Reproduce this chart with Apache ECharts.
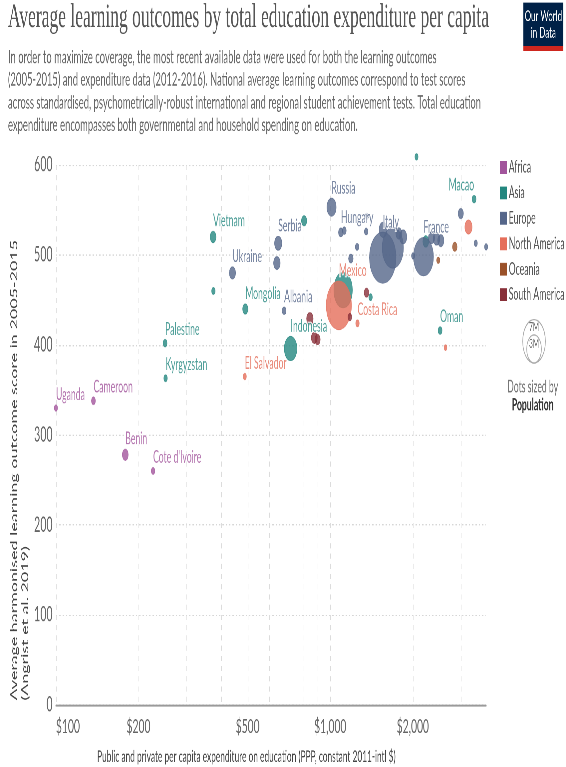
<!DOCTYPE html>
<html><head><meta charset="utf-8">
<script src="https://cdn.jsdelivr.net/npm/echarts@6/dist/echarts.min.js"></script>
<style>
html,body{margin:0;padding:0;background:#fff;overflow:hidden;width:566px;height:767px;}
#chart{width:850px;height:600px;transform:scale(0.665882,1.278333);transform-origin:0 0;}
</style></head><body><div id="chart"></div>
<script>
// Categories (continents) and their colours
const continents = ['Africa','Asia','Europe','North America','Oceania','South America'];
const colors = ['#a2559c','#23877f','#55668a','#e56e5a','#9a5129','#883039'];

// [label, expenditure per capita ($), learning outcome score, population (M, bubble size)]
const africa = [
  ['Uganda', 100, 330, 0.15],
  ['Cameroon', 137, 338, 0.22],
  ['Benin', 179, 278, 0.49],
  ["Cote d'Ivoire", 226, 260, 0.18]
];
const asia = [
  ['Vietnam', 374, 520, 0.49],
  ['', 375, 460, 0.18],
  ['Mongolia', 490, 440, 0.39],
  ['Palestine', 250, 402, 0.22],
  ['Kyrgyzstan', 251, 363, 0.18],
  ['Indonesia', 717, 396, 2.19],
  ['', 803, 538, 0.39],
  ['', 1114, 461, 4.75],
  ['', 1403, 453, 0.18],
  ['Macao', 3345, 562, 0.22],
  ['', 2063, 609, 0.15],
  ['', 2230, 515, 0.49],
  ['Oman', 2515, 416, 0.22]
];
const europe = [
  ['Ukraine', 440, 480, 0.55],
  ['Serbia', 646, 513, 0.73],
  ['', 639, 491, 0.61],
  ['Albania', 679, 438, 0.22],
  ['Russia', 1011, 553, 1.19],
  ['Hungary', 1093, 525, 0.3],
  ['', 1125, 527, 0.22],
  ['', 1352, 526, 0.18],
  ['', 1360, 543, 0.15],
  ['', 1253, 509, 0.18],
  ['', 1189, 496, 0.3],
  ['Italy', 1554, 497, 9.69],
  ['', 1691, 508, 6.2],
  ['', 1558, 528, 0.87],
  ['', 1844, 520, 0.73],
  ['', 1778, 524, 0.49],
  ['', 2005, 499, 0.15],
  ['France', 2188, 498, 5.45],
  ['', 2340, 519, 0.55],
  ['', 2440, 518, 0.61],
  ['', 2530, 516, 0.55],
  ['', 2992, 546, 0.39],
  ['', 3393, 513, 0.15],
  ['', 3700, 509, 0.15]
];
const northAmerica = [
  ['Mexico', 1075, 444, 8.75],
  ['Costa Rica', 1257, 424, 0.18],
  ['El Salvador', 488, 365, 0.15],
  ['', 3191, 531, 0.73],
  ['', 2632, 397, 0.12]
];
const oceania = [
  ['', 2845, 509, 0.3],
  ['', 2476, 494, 0.15]
];
const southAmerica = [
  ['', 843, 429, 0.6],
  ['', 875, 408, 0.5],
  ['', 899, 406, 0.4],
  ['', 1356, 458, 0.3],
  ['', 1179, 431, 0.2]
];
const groups = [africa, asia, europe, northAmerica, oceania, southAmerica];

// Axis ticks
const xTickValues = [100,200,300,400,500,600,700,800,900,1000,2000,3000];
const xLabelValues = [100,200,500,1000,2000];
const yTicks = {min:0, max:600, interval:100};

const FONT = 'Lato';
const chart = echarts.init(document.getElementById('chart'), null, {renderer:'canvas', devicePixelRatio:2});

const series = groups.map((g, i) => ({
  name: continents[i],
  type: 'scatter',
  clip: false,
  data: g.slice().sort((a,b)=>b[3]-a[3]).map(d => ({
    name: d[0],
    value: [d[1], d[2], d[3]],
    label: {show: !!d[0], align: d[0]==='Macao' ? 'right' : 'left'}
  })),
  symbolSize: v => 12.85 * Math.sqrt(v[2]),
  itemStyle: {color: colors[i], opacity: 0.8, borderColor: colors[i], borderWidth: 0.6},
  label: {
    position: 'top', distance: 1, formatter: p => p.name,
    color: colors[i], fontSize: 13, fontFamily: FONT,
    textBorderColor: '#fff', textBorderWidth: 2
  },
  emphasis: {disabled: true}
}));

const option = {
  animation: false,
  backgroundColor: '#fff',
  grid: {left: 84, right: 120, top: 129, bottom: 48.5, containLabel: false},
  xAxis: {
    type: 'log', logBase: 10, min: 100, max: 3700,
    axisLine: {show: true, lineStyle: {color: '#9a9a9a', width: 1.5}},
    axisTick: {show: false, customValues: xTickValues},
    axisLabel: {customValues: xLabelValues, formatter: v => '$' + Number(v).toLocaleString('en-US'),
      alignMinLabel: 'left', color: '#666', fontSize: 15.5, fontFamily: FONT, margin: 9},
    splitLine: {show: true, lineStyle: {color: '#dcdcdc', type: [4,4], width: 1}}
  },
  yAxis: {
    type: 'value', min: yTicks.min, max: yTicks.max, interval: yTicks.interval,
    axisLine: {show: false}, axisTick: {show: false},
    axisLabel: {color: '#666', fontSize: 16, fontFamily: FONT, margin: 5},
    splitLine: {lineStyle: {color: '#d6d6d6', type: [2,3], width: 1}}
  },
  legend: {
    orient: 'vertical', left: 746, top: 119.5,
    data: continents, icon: 'rect', itemWidth: 10, itemHeight: 10, itemGap: 6.9,
    itemStyle: {opacity: 1, borderWidth: 0},
    textStyle: {color: '#555', fontSize: 13, fontFamily: FONT, lineHeight: 10, padding: [0,0,0,-2]},
    selectedMode: false
  },
  series: series,
  graphic: [
    {type:'text', left: 12, top: 1, style:{text:'Average learning outcomes by total education expenditure per capita',
      font:'26.3px "Liberation Serif"', fill:'#555'}},
    {type:'text', left: 12, top: 36, style:{text:
      'In order to maximize coverage, the most recent available data were used for both the learning outcomes\n' +
      '(2005-2015) and expenditure data (2012-2016). National average learning outcomes correspond to test scores\n' +
      'across standardised, psychometrically-robust international and regional student achievement tests. Total education\n' +
      'expenditure encompasses both governmental and household spending on education.',
      font:'14.2px ' + FONT, fill:'#666', lineHeight: 17.7}},
    {type:'rect', shape:{x:786, y:2, width:60, height:38}, style:{fill:'#002147'}},
    {type:'rect', shape:{x:786, y:36, width:60, height:4}, style:{fill:'#ce261e'}},
    {type:'text', x:816, y:19, style:{text:'Our World\nin Data', font:'12px ' + FONT, fill:'#fff',
      align:'center', verticalAlign:'middle', lineHeight: 13}},
    {type:'circle', shape:{cx:802, cy:267, r:17}, style:{fill:'none', stroke:'#aaa', lineWidth:1}},
    {type:'circle', shape:{cx:802, cy:273, r:11}, style:{fill:'none', stroke:'#aaa', lineWidth:1}},
    {type:'text', x:802, y:256, style:{text:'7M', font:'10px ' + FONT, fill:'#666', align:'center', verticalAlign:'middle'}},
    {type:'text', x:802, y:269, style:{text:'3M', font:'10px ' + FONT, fill:'#666', align:'center', verticalAlign:'middle'}},
    {type:'text', x:800, y:303, style:{text:'Dots sized by', font:'13px ' + FONT, fill:'#777', align:'center', verticalAlign:'middle'}},
    {type:'text', x:800, y:317, style:{text:'Population', font:'bold 13px ' + FONT, fill:'#333', align:'center', verticalAlign:'middle'}},
    {type:'text', x:370, y:592, style:{text:'Public and private per capita expenditure on education (PPP, constant 2011-intl $)',
      font:'12.5px ' + FONT, fill:'#444', align:'center', verticalAlign:'middle'}},
    {type:'text', x:13, y:548, rotation: Math.PI/2, style:{text:'Average harmonised learning outcome score in 2005-2015\n(Angrist et al. 2019)',
      font:'14px ' + FONT, fill:'#444', align:'left', verticalAlign:'top', lineHeight: 16.5}}
  ]
};
chart.setOption(option);
</script></body></html>
